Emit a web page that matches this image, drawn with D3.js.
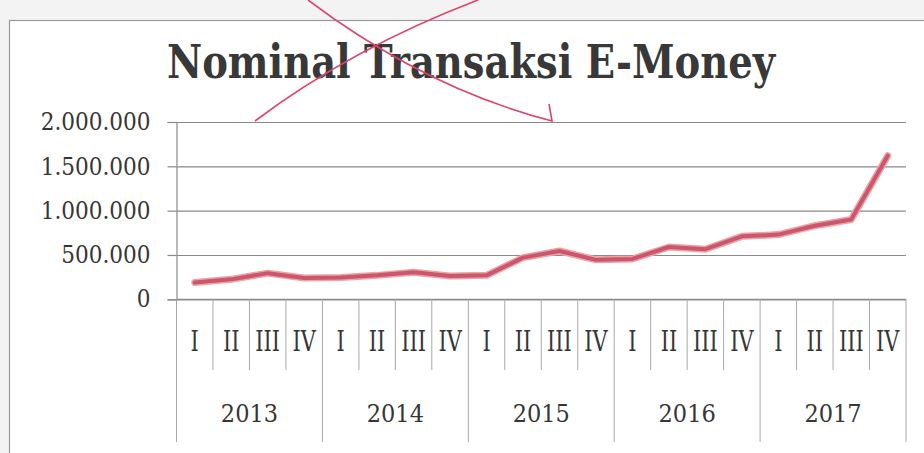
<!DOCTYPE html>
<html>
<head>
<meta charset="utf-8">
<script src="https://cdn.jsdelivr.net/npm/d3@7"></script>
<style>
  html, body { margin: 0; padding: 0; background: #f3f3f3; }
  svg { display: block; }
  .title { font-family: "DejaVu Serif Condensed", "DejaVu Serif", serif; font-weight: bold; fill: #383838; }
  .lbl { font-family: "DejaVu Serif Condensed", "DejaVu Serif", serif; fill: #363636; }
</style>
</head>
<body>
<div id="chart"></div>
<script>
const TITLE = "Nominal Transaksi E-Money";
const years = ["2013", "2014", "2015", "2016", "2017"];
const quarters = ["I", "II", "III", "IV"];
// nominal per quarter
const values2013 = [190000, 225000, 295000, 240000];
const values2014 = [245000, 270000, 305000, 263000];
const values2015 = [270000, 470000, 545000, 445000];
const values2016 = [455000, 590000, 565000, 710000];
const values2017 = [730000, 830000, 900000, 1620000];
const yTicks = [0, 500000, 1000000, 1500000, 2000000];

const W = 924, H = 453;
const m = { left: 176.5, right: 906, top: 122, bottom: 299.3 };

const rows = [values2013, values2014, values2015, values2016, values2017]
  .flatMap((vals, yi) => vals.map((v, qi) => ({ key: `${years[yi]}-${quarters[qi]}`, year: years[yi], q: quarters[qi], value: v })));

const svg = d3.select("#chart").append("svg").attr("width", W).attr("height", H);

// chart frame (page border of the scan)
svg.append("rect")
  .attr("x", 9.5).attr("y", 20.5).attr("width", W + 20).attr("height", H)
  .attr("fill", "#ffffff").attr("stroke", "#9a9a9a").attr("stroke-width", 1.2);

const x = d3.scaleBand().domain(rows.map(d => d.key)).range([m.left, m.right]);
const y = d3.scaleLinear().domain([0, 2000000]).range([m.bottom, m.top]);
const fmt = d3.formatLocale({ decimal: ",", thousands: ".", grouping: [3], currency: ["", ""] }).format(",d");

svg.append("text").attr("class", "title")
  .attr("x", 167).attr("y", 78)
  .attr("font-size", 46)
  .attr("textLength", 608).attr("lengthAdjust", "spacingAndGlyphs")
  .text(TITLE);

// gridlines + y labels
const yAxis = svg.append("g").attr("transform", `translate(${m.left},0)`)
  .call(d3.axisLeft(y).tickValues(yTicks).tickFormat(fmt).tickSize(9).tickPadding(17));
yAxis.select(".domain").attr("stroke", "#8a8a8a").attr("stroke-width", 1.2);
yAxis.selectAll(".tick line").attr("stroke", "#8a8a8a").attr("stroke-width", 1.2);
yAxis.selectAll(".tick text").attr("class", "lbl").attr("font-size", 24).attr("fill", "#363636");
yAxis.selectAll(".tick").append("line")
  .attr("x1", 0).attr("x2", m.right - m.left)
  .attr("stroke", "#8a8a8a").attr("stroke-width", 1.2);

// category axis: quarter separators, year separators
const gx = svg.append("g");
gx.append("line")
  .attr("x1", m.left).attr("x2", m.right).attr("y1", y(0)).attr("y2", y(0))
  .attr("stroke", "#8a8a8a").attr("stroke-width", 1.2);
gx.selectAll("line.q").data(rows.filter(d => d.q !== "I")).join("line").attr("class", "q")
  .attr("x1", d => x(d.key)).attr("x2", d => x(d.key))
  .attr("y1", y(0)).attr("y2", 370)
  .attr("stroke", "#a8a8a8").attr("stroke-width", 1);
const yearEdges = years.map(yr => x(`${yr}-I`)).concat([m.right]);
gx.selectAll("line.yr").data(yearEdges).join("line").attr("class", "yr")
  .attr("x1", d => d).attr("x2", d => d)
  .attr("y1", y(0)).attr("y2", 442)
  .attr("stroke", "#a8a8a8").attr("stroke-width", 1);
// quarter labels are tall and narrow in the scan
gx.selectAll("text.q").data(rows).join("text").attr("class", "lbl q")
  .attr("transform", d => `translate(${x(d.key) + x.bandwidth() / 2},351) scale(0.86,1)`)
  .attr("text-anchor", "middle").attr("font-size", 27)
  .text(d => d.q);
gx.selectAll("text.yr").data(years).join("text").attr("class", "lbl yr")
  .attr("x", yr => x(`${yr}-I`) + 2 * x.bandwidth()).attr("y", 422)
  .attr("text-anchor", "middle").attr("font-size", 25)
  .text(yr => yr);

// series line
const line = d3.line().x(d => x(d.key) + x.bandwidth() / 2).y(d => y(d.value));
svg.append("path").datum(rows).attr("d", line)
  .attr("fill", "none").attr("stroke", "#eda39f").attr("stroke-width", 7)
  .attr("stroke-linejoin", "round").attr("stroke-linecap", "round");
svg.append("path").datum(rows).attr("d", line)
  .attr("fill", "none").attr("stroke", "#cc5570").attr("stroke-width", 4)
  .attr("stroke-linejoin", "round").attr("stroke-linecap", "round");

// red pen cross drawn over the scanned page
const penStrokes = ["M255,121 Q352,48 478,0", "M308,0 Q425,88 552,121 L549,104"];
svg.selectAll("path.pen").data(penStrokes).join("path").attr("class", "pen")
  .attr("d", d => d).attr("fill", "none")
  .attr("stroke", "#e0436c").attr("stroke-width", 1.6);
</script>
</body>
</html>
